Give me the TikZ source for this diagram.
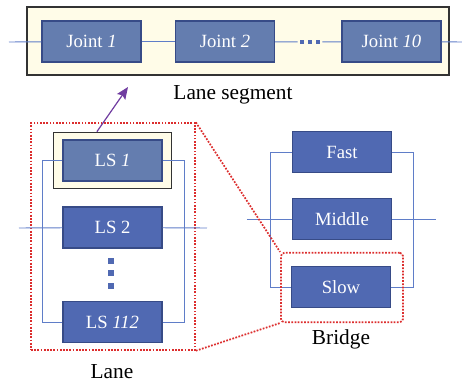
\documentclass[tikz,border=0pt]{standalone}
\usepackage{fontspec}
\setmainfont{Liberation Serif}
\usepackage{tikz}
\usetikzlibrary{arrows.meta,positioning,calc}
\definecolor{jointblue}{RGB}{100,125,175}
\definecolor{boxblue}{RGB}{80,105,178}
\definecolor{boxedge}{RGB}{55,75,135}
\definecolor{wireblue}{RGB}{95,125,200}
\definecolor{paleyellow}{RGB}{255,252,232}
\definecolor{dotred}{RGB}{220,45,45}
\definecolor{linkpurple}{RGB}{112,60,160}
\tikzset{
  unit/.style={rectangle, draw=boxedge, line width=1.2pt, fill=boxblue, text=white,
               minimum width=74pt, minimum height=31pt, inner sep=0pt,
               font=\fontsize{14}{16}\selectfont},
  unitgray/.style={unit, fill=jointblue},
  frame/.style={rectangle, draw=black!80, line width=0.8pt, fill=paleyellow, inner sep=0pt},
  group/.style={rectangle, draw=dotred, line width=1.3pt, dash pattern=on 1.3pt off 1.1pt, inner sep=0pt},
  link/.style={dotred, line width=1.3pt, dash pattern=on 1.3pt off 1.1pt},
  wire/.style={wireblue, line width=0.7pt},
  arrowpurple/.style={-{Stealth[length=9pt, width=7.5pt, inset=1.5pt]}, line width=0.9pt, linkpurple},
  caption/.style={font=\fontsize{16}{18}\selectfont},
  dotsq/.style={fill=boxblue, minimum size=#1, inner sep=0pt},
}

\begin{document}
\begin{tikzpicture}[x=0.75pt, y=-0.75pt]
\useasboundingbox (0,0) rectangle (462,383);

% lane segment
\node[frame, minimum width=316.5pt, minimum height=51pt] (segframe) at (238,41) {};
\coordinate (segin) at (9,42);
\coordinate (segout) at (462,42);
\node[unitgray] (joint1) at (91.5,41.5) {Joint \textit{1}};
\node[unitgray] (joint2) at (225,41.5) {Joint \textit{2}};
\node[unitgray] (joint10) at (391.5,41.5) {Joint \textit{10}};
\node[minimum width=18pt, minimum height=6pt, inner sep=0pt] (segdots) at (310,42) {};
\foreach \x in {302,310,318}
  \node[dotsq=3pt] at (\x,42) {};
\draw[wire] (segin) -- (joint1);
\draw[wire] (joint1) -- (joint2);
\draw[wire] (joint2) -- (segdots);
\draw[wire] (segdots) -- (joint10);
\draw[wire] (joint10) -- (segout);
\node[caption] (segcap) at (233,95) {Lane segment};

% lane
\node[group, minimum width=123pt, minimum height=170pt] (laneframe) at (113,236.5) {};
\node[frame, minimum width=89pt, minimum height=42.5pt] (lsframe) at (112.5,160.5) {};
\node[unitgray] (ls1) at (112.5,160.5) {LS \textit{1}};
\node[unit] (ls2) at (112.5,227.5) {LS 2};
\node[unit] (ls112) at (112.5,322) {LS \textit{112}};
\foreach \y in {261,273,286}
  \node[dotsq=4pt] at (111,\y) {};
\coordinate (lanein) at (19,228);
\coordinate (laneout) at (207,228);
\coordinate (laneL) at (42,228);
\coordinate (laneR) at (184,228);
\draw[wire] (lanein) -- (ls2) -- (laneout);
\draw[wire] (ls1.west) -- (ls1.west -| laneL) |- (ls112.west);
\draw[wire] (ls1.east) -- (ls1.east -| laneR) |- (ls112.east);
\node[caption] (lanecap) at (112,372) {Lane};
\draw[arrowpurple] ($(lsframe.north west)!0.37!(lsframe.north east)$) -- (128,87);

% bridge
\node[unit] (fast) at (342,152) {Fast};
\node[unit] (middle) at (342,219) {Middle};
\node[unit] (slow) at (341,287) {Slow};
\coordinate (bridgein) at (247,219);
\coordinate (bridgeout) at (436,219);
\coordinate (bridgeL) at (270,219);
\coordinate (bridgeR) at (413,219);
\draw[wire] (bridgein) -- (middle) -- (bridgeout);
\draw[wire] (fast.west) -- (fast.west -| bridgeL) |- (slow.west);
\draw[wire] (fast.east) -- (fast.east -| bridgeR) |- (slow.east);
\node[group, rounded corners=2.5pt, minimum width=91.5pt, minimum height=52pt] (bridgeframe) at (342,287.5) {};
\node[caption] (bridgecap) at (341,339) {Bridge};

% zoom lines
\draw[link] (laneframe.north east) -- (bridgeframe.north west);
\draw[link] (laneframe.south east) -- (bridgeframe.south west);
\end{tikzpicture}
\end{document}
